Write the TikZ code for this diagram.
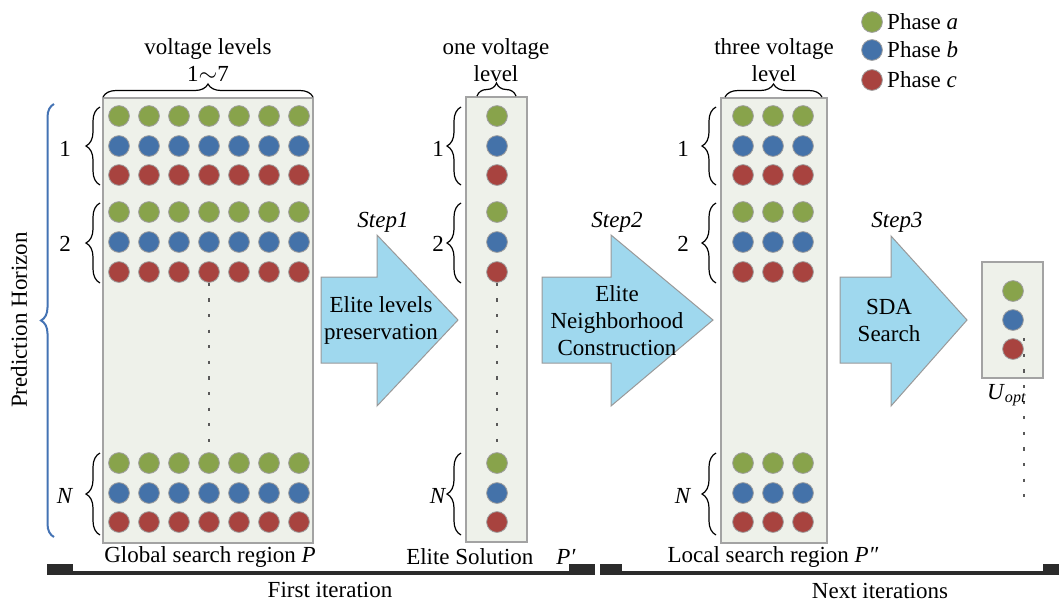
\documentclass[tikz,border=0pt]{standalone}
\usepackage{fontspec}
\setmainfont{Liberation Serif}
\usetikzlibrary{decorations.pathreplacing,positioning}
\definecolor{phA}{HTML}{88A34B}
\definecolor{phB}{HTML}{4472A9}
\definecolor{phC}{HTML}{A8433F}
\definecolor{regfill}{HTML}{EEF1EA}
\definecolor{regline}{HTML}{A3A3A3}
\definecolor{stepfill}{HTML}{9FD8EE}
\definecolor{horblue}{HTML}{4473B4}
\definecolor{barclr}{HTML}{2B2B2B}

\begin{document}
\begin{tikzpicture}[x=0.5pt,y=-0.5pt,
  font=\fontsize{11.5}{13.5}\selectfont,
  region/.style={draw=regline,fill=regfill,line width=0.7pt,inner sep=0pt,minimum height=222.5pt},
  dot/.style={circle,draw=gray!75,line width=0.4pt,minimum size=10.4pt,inner sep=0pt,fill=#1},
  brc/.style={decorate,decoration={brace,amplitude=#1},line width=0.6pt},
  stepbox/.style={draw=gray!80,fill=stepfill,line width=0.5pt},
  dots/.style={draw=gray!70!black,line width=1.2pt,dash pattern=on 1.6pt off 6.2pt},
  lab/.style={align=center,inner sep=1pt},
  steplab/.style={font=\fontsize{11.5}{13.5}\selectfont\itshape,inner sep=1pt}]
\useasboundingbox (0,0) rectangle (1059,601);

% search regions
\node[region,minimum width=105pt] (P) at (208,320.5) {};
\node[region,minimum width=30.5pt] (Pe) at (496.5,319.5) {};
\node[region,minimum width=53pt] (Pl) at (774,320.5) {};
\node[region,minimum width=30.5pt,minimum height=58pt] (U) at (1012.5,320) {};

% block arrows
\draw[stepbox] (321,277) -- (377,277) -- (377,235) -- (458,320) -- (377,406) -- (377,363) -- (321,363) -- cycle;
\draw[stepbox] (542,277) -- (611,277) -- (611,235) -- (713,320) -- (611,406) -- (611,363) -- (542,363) -- cycle;
\draw[stepbox] (840,277) -- (891,277) -- (891,236) -- (967,320) -- (891,406) -- (891,363) -- (840,363) -- cycle;
\node[lab] (s1) at (381,320) {Elite levels\\preservation};
\node[lab] (s2) at (617,321) {Elite\\Neighborhood\\Construction};
\node[lab] (s3) at (889,320) {SDA\\Search};
\node[steplab] (t1) at (383,222) {Step1};
\node[steplab] (t2) at (617,222) {Step2};
\node[steplab] (t3) at (897,222) {Step3};

% phase dots
\foreach \y/\c [count=\r] in {116/phA,146/phB,175/phC,212/phA,242/phB,272/phC,463/phA,493/phB,522/phC}{
  \foreach \k in {1,...,7}
    \node[dot=\c] (p-\k-\r) at ({89+30*\k},\y) {};
  \node[dot=\c] (e-\r) at (497,\y) {};
  \foreach \k in {1,2,3}
    \node[dot=\c] (l-\k-\r) at ({713+30*\k},\y) {};
}
\foreach \y/\c [count=\r] in {291/phA,320/phB,349/phC}
  \node[dot=\c] (u-\r) at (1013,\y) {};

\draw[dots] (p-4-6.south) -- ([yshift=5pt]p-4-7.north);
\draw[dots] (e-6.south) -- ([yshift=5pt]e-7.north);
\coordinate (uend) at (1024,498);
\draw[dots] ([xshift=5.5pt]u-3.north) -- (uend);

% top braces
\draw[brc=6.5pt] (103,97) -- (313,97);
\draw[brc=6.5pt] (477,96) -- (516,96);
\draw[brc=6.5pt] (725,97) -- (822,97);
\node[lab,anchor=south] (vl) at (208,84) {voltage levels\\1$\sim$7};
\node[lab,anchor=south] (ol) at (496,84) {one voltage\\level};
\node[lab,anchor=south] (tl) at (774,84) {three voltage\\level};

% group braces
\foreach \xb/\xt in {100/65,461/438,716/683}{
  \draw[brc=7pt] (\xb,185) -- (\xb,107);
  \draw[brc=7pt] (\xb,283) -- (\xb,203);
  \draw[brc=7pt] (\xb,535) -- (\xb,453);
  \node[inner sep=1pt] at (\xt,149) {1};
  \node[inner sep=1pt] at (\xt,244) {2};
  \node[inner sep=1pt] at (\xt,496) {\textit{N}};
}

% prediction horizon
\draw[brc=6.5pt,draw=horblue,line width=1pt] (54,537) -- (54,104);
\node[rotate=90,inner sep=1pt] (ph) at (19,320) {Prediction Horizon};

% legend
\foreach \y/\c/\t [count=\r] in {22/phA/a,50/phB/b,80/phC/c}{
  \node[dot=\c] (leg-\r) at (872,\y) {};
  \node[anchor=west,inner sep=1pt] at ([xshift=1pt]leg-\r.east) {Phase \textit{\t}};
}

% region labels
\node[lab] (gP) at (210,557) {Global search region \textit{P}};
\node[lab] (gE) at (491,557) {Elite Solution\quad\textit{P′}};
\node[lab] (gL) at (773,557) {Local search region \textit{P″}};
\node[lab] (gU) at (1007,395) {\textit{U}\textsubscript{\textit{opt}}};

% iteration bar
\fill[barclr] (47,564) rectangle (73,575);
\fill[barclr] (73,571) rectangle (595,575);
\fill[barclr] (569,564) rectangle (595,575);
\fill[barclr] (600,564) rectangle (622,575);
\fill[barclr] (622,571) rectangle (1059,575);
\fill[barclr] (1043,564) rectangle (1059,575);
\node[lab] (it1) at (330,590) {First iteration};
\node[lab] (it2) at (880,591) {Next iterations};
\end{tikzpicture}
\end{document}
